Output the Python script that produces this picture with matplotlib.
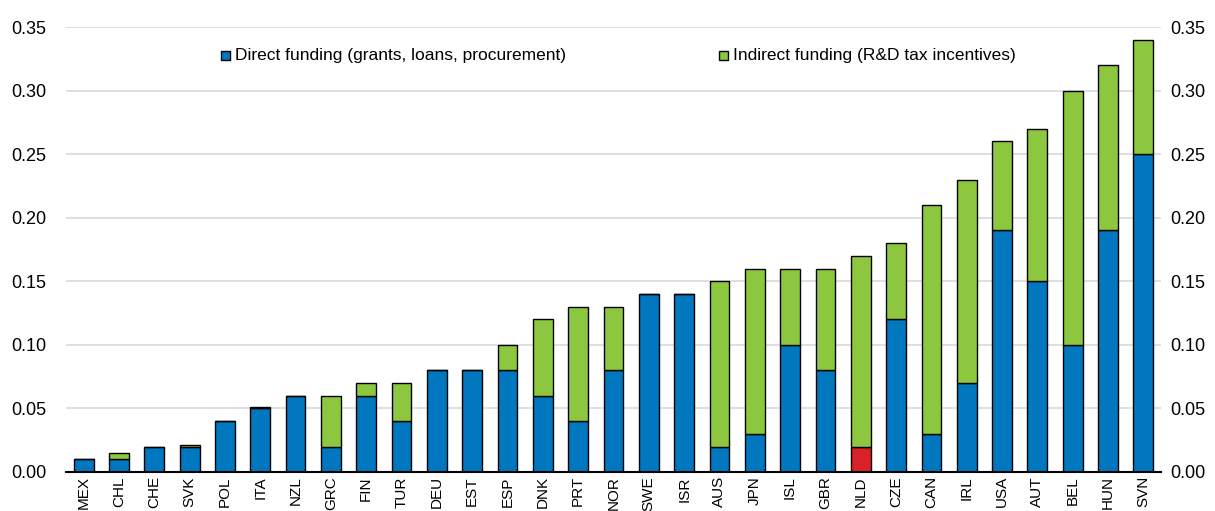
import matplotlib.pyplot as plt
from matplotlib.patches import Rectangle
import numpy as np

countries = ['MEX', 'CHL', 'CHE', 'SVK', 'POL', 'ITA', 'NZL', 'GRC', 'FIN', 'TUR',
             'DEU', 'EST', 'ESP', 'DNK', 'PRT', 'NOR', 'SWE', 'ISR', 'AUS', 'JPN',
             'ISL', 'GBR', 'NLD', 'CZE', 'CAN', 'IRL', 'USA', 'AUT', 'BEL', 'HUN', 'SVN']
direct = [0.01, 0.01, 0.02, 0.02, 0.04, 0.05, 0.06, 0.02, 0.06, 0.04,
          0.08, 0.08, 0.08, 0.06, 0.04, 0.08, 0.14, 0.14, 0.02, 0.03,
          0.10, 0.08, 0.02, 0.12, 0.03, 0.07, 0.19, 0.15, 0.10, 0.19, 0.25]
indirect = [0.0, 0.005, 0.0, 0.001, 0.0, 0.001, 0.0, 0.04, 0.01, 0.03,
            0.0, 0.0, 0.02, 0.06, 0.09, 0.05, 0.0, 0.0, 0.13, 0.13,
            0.06, 0.08, 0.15, 0.06, 0.18, 0.16, 0.07, 0.12, 0.20, 0.13, 0.09]
highlight = 'NLD'
yticks = [0.0, 0.05, 0.10, 0.15, 0.20, 0.25, 0.30, 0.35]
labels = ['Direct funding (grants, loans, procurement)',
          'Indirect funding (R&D tax incentives)']

BLUE = '#0077BE'
GREEN = '#8DC63F'
RED = '#DA2128'

plt.rcParams['font.family'] = ['Liberation Sans', 'DejaVu Sans']

W, H = 1215, 511
fig = plt.figure(figsize=(W / 100, H / 100), dpi=100)
ax = fig.add_axes([66 / W, 1 - 472 / H, (1161 - 66) / W, (472 - 27) / H])

x = np.arange(len(countries))
colors = [RED if c == highlight else BLUE for c in countries]
w = 0.56
ax.bar(x, direct, w, color=colors, edgecolor='black', linewidth=1, zorder=3)
ax.bar(x, indirect, w, bottom=direct, color=GREEN, edgecolor='black', linewidth=1, zorder=3)

ax.set_xlim(-0.5, len(countries) - 0.5)
ax.set_ylim(0, 0.35)
ax.set_yticks(yticks)
ax.set_yticklabels(['%.2f' % v for v in yticks], fontsize=13)
ax.yaxis.grid(True, color='#d9d9d9', linewidth=1.2, zorder=0)
ax.set_xticks(x)
ax.set_xticklabels(countries, rotation=90, fontsize=11)
ax.tick_params(axis='both', length=0)
ax.tick_params(axis='x', pad=3)
ax.tick_params(axis='y', pad=14)
for s in ['left', 'right', 'top']:
    ax.spines[s].set_visible(False)
ax.spines['bottom'].set_linewidth(1.5)
ax.spines['bottom'].set_zorder(4)

ax2 = ax.twinx()
ax2.set_ylim(0, 0.35)
ax2.set_yticks(yticks)
ax2.set_yticklabels(['%.2f' % v for v in yticks], fontsize=13)
ax2.tick_params(axis='y', length=0, pad=7)
for s in ['left', 'right', 'top', 'bottom']:
    ax2.spines[s].set_visible(False)

# legend drawn by hand: square + label
for (px, col, lab) in [(221, BLUE, labels[0]), (719, GREEN, labels[1])]:
    fig.patches.append(Rectangle((px / W, 1 - 60 / H), 9 / W, 9 / H, facecolor=col,
                                 edgecolor='black', linewidth=1, transform=fig.transFigure))
    fig.text((px + 14) / W, 1 - 55 / H, lab, fontsize=12.5, va='center', ha='left')

fig.savefig('out.png', dpi=100)
